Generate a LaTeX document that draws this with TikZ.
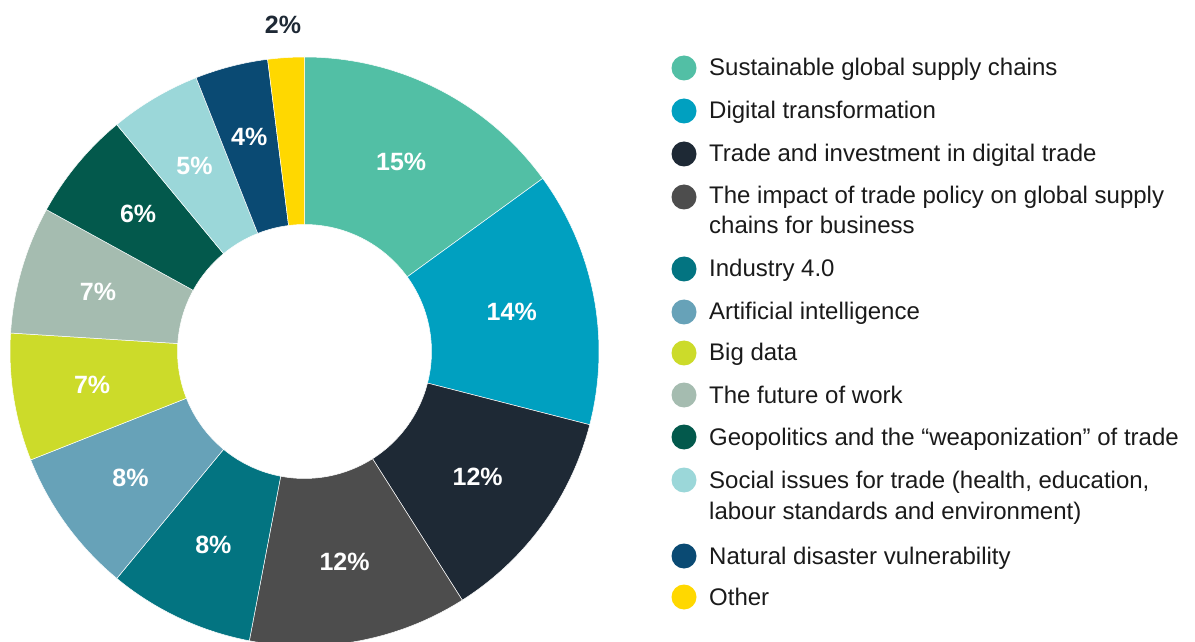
\documentclass[tikz,border=0pt]{standalone}
\usepackage{fontspec}
\setmainfont{Liberation Sans}
\definecolor{cA}{HTML}{52BFA5}
\definecolor{cB}{HTML}{00A0C0}
\definecolor{cC}{HTML}{1E2935}
\definecolor{cD}{HTML}{4D4D4D}
\definecolor{cE}{HTML}{037481}
\definecolor{cF}{HTML}{67A2B8}
\definecolor{cG}{HTML}{CCDB2A}
\definecolor{cH}{HTML}{A5BCB0}
\definecolor{cI}{HTML}{03594C}
\definecolor{cJ}{HTML}{9BD7D9}
\definecolor{cK}{HTML}{0A4A73}
\definecolor{cL}{HTML}{FFD800}
\definecolor{txt}{HTML}{1A1A1A}
\tikzset{
  seg/.style={draw=white, line width=0.5pt},
  pct/.style={text=white, font=\bfseries\fontsize{25}{28}\selectfont, inner sep=0pt},
  dot/.style={circle, minimum size=25pt, inner sep=0pt},
  legtext/.style={text=txt, font=\fontsize{24}{30.5}\selectfont, anchor=base west, align=left, inner sep=0pt}
}
\begin{document}
\begin{tikzpicture}[x=1pt,y=1pt]
\useasboundingbox (0,0) rectangle (1195,641);
\def\cx{304.5}\def\cy{289.5}\def\R{294.5}\def\r{127}
\foreach \a/\b/\c/\t/\n/\rl in {90/36/cA/15/a/213, 36/-14.4/cB/14/b/211, -14.4/-57.6/cC/12/c/214, -57.6/-100.8/cD/12/d/214, -100.8/-129.6/cE/8/e/214, -129.6/-158.4/cF/8/f/215, -158.4/-183.6/cG/7/g/215, -183.6/-208.8/cH/7/h/215, -208.8/-230.4/cI/6/i/216, -230.4/-248.4/cJ/5/j/216, -248.4/-262.8/cK/4/k/222}{
  \fill[\c, seg] ({\cx+\R*cos(\a)},{\cy+\R*sin(\a)}) arc[start angle=\a, end angle=\b, radius=\R]
     -- ({\cx+\r*cos(\b)},{\cy+\r*sin(\b)}) arc[start angle=\b, end angle=\a, radius=\r] -- cycle;
  \pgfmathsetmacro\m{(\a+\b)/2}
  \node[pct] (p\n) at ({\cx+\rl*cos(\m)},{\cy+\rl*sin(\m)}) {\t\%};
}
\fill[cL, seg] ({\cx+\R*cos(-262.8)},{\cy+\R*sin(-262.8)}) arc[start angle=-262.8, end angle=-270, radius=\R]
   -- ({\cx+\r*cos(-270)},{\cy+\r*sin(-270)}) arc[start angle=-270, end angle=-262.8, radius=\r] -- cycle;
\node[pct, text=cC] (pl) at (283,616) {2\%};
% legend
\foreach \y/\c/\n in {68/cA/1, 111/cB/2, 154/cC/3, 197/cD/4, 269/cE/5, 312/cF/6, 353/cG/7, 395/cH/8, 437/cI/9, 480/cJ/10, 556/cK/11, 597/cL/12}{
  \node[dot, fill=\c] (d\n) at (684,641-\y) {};
}
\node[legtext] (t1) at (709,641-76) {Sustainable global supply chains};
\node[legtext] (t2) at (709,641-119) {Digital transformation};
\node[legtext] (t3) at (709,641-162) {Trade and investment in digital trade};
\node[legtext] (t4) at (709,641-234) {The impact of trade policy on global supply\\chains for business};
\node[legtext] (t5) at (709,641-277) {Industry 4.0};
\node[legtext] (t6) at (709,641-320) {Artificial intelligence};
\node[legtext] (t7) at (709,641-361) {Big data};
\node[legtext] (t8) at (709,641-403) {The future of work};
\node[legtext] (t9) at (709,641-445) {Geopolitics and the “weaponization” of trade};
\node[legtext] (t10) at (709,641-519) {Social issues for trade (health, education,\\labour standards and environment)};
\node[legtext] (t11) at (709,641-564) {Natural disaster vulnerability};
\node[legtext] (t12) at (709,641-605) {Other};
\end{tikzpicture}
\end{document}
